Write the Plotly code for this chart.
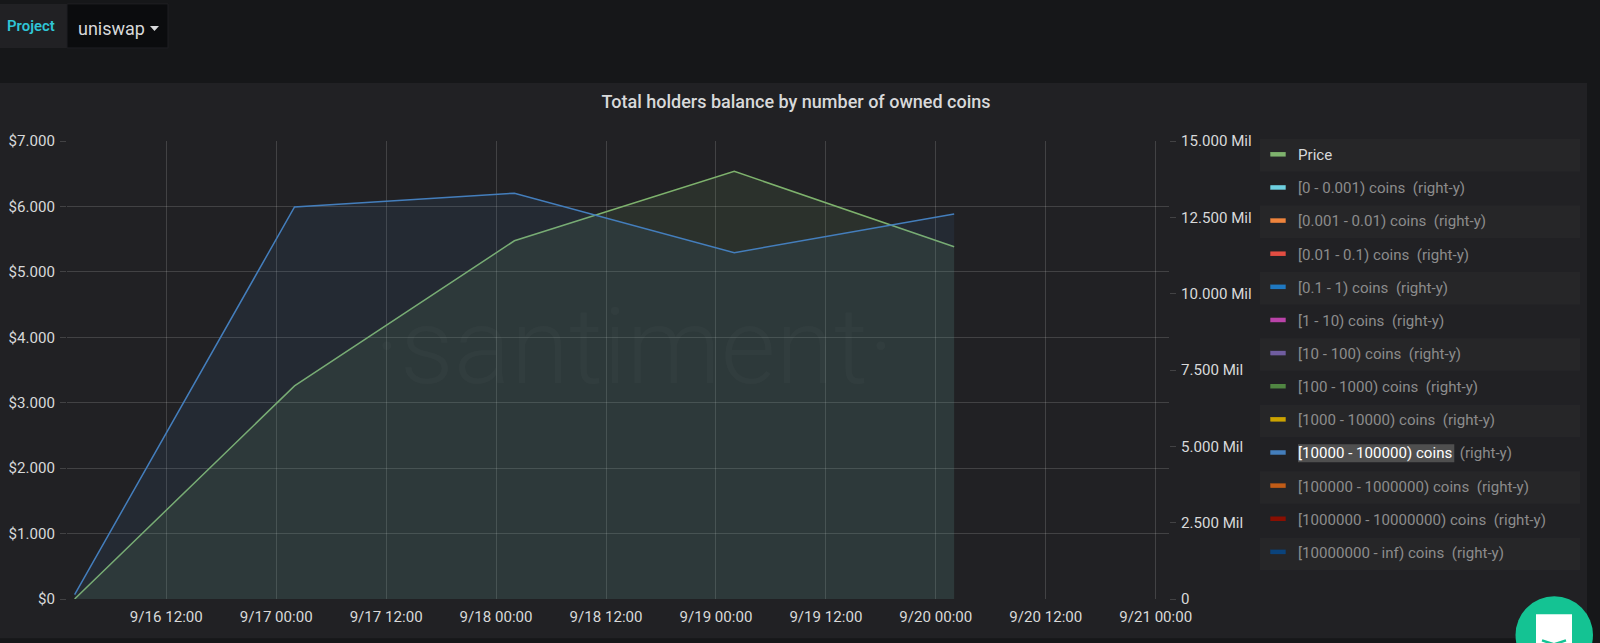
import plotly.graph_objects as go

W, H = 1600, 643
LEFT, RIGHT, TOP, BOTTOM = 67, 1169, 141, 598.7

# ---- data ----
DATES = ["2020-09-16 02:00", "2020-09-17 02:00", "2020-09-18 02:00", "2020-09-19 02:00", "2020-09-20 02:00"]
PRICE = [0.0, 3.257, 5.475, 6.536, 5.383]
HOLDERS_10K_100K = [144000, 12840000, 13290000, 11340000, 12610000]

LEGEND_NAMES = ["Price", "[0 - 0.001) coins", "[0.001 - 0.01) coins", "[0.01 - 0.1) coins", "[0.1 - 1) coins",
                "[1 - 10) coins", "[10 - 100) coins", "[100 - 1000) coins", "[1000 - 10000) coins",
                "[10000 - 100000) coins", "[100000 - 1000000) coins", "[1000000 - 10000000) coins",
                "[10000000 - inf) coins"]
LEGEND_COLORS = ["#7eb26d", "#6ed0e0", "#ef843c", "#e24d42", "#1f78c1", "#ba43a9", "#705da0", "#508642",
                 "#cca300", "#447ebc", "#c15c17", "#890f02", "#0a437c"]

X_TICKS = ["2020-09-16 12:00", "2020-09-17 00:00", "2020-09-17 12:00", "2020-09-18 00:00", "2020-09-18 12:00",
           "2020-09-19 00:00", "2020-09-19 12:00", "2020-09-20 00:00", "2020-09-20 12:00", "2020-09-21 00:00"]
X_LABELS = ["9/16 12:00", "9/17 00:00", "9/17 12:00", "9/18 00:00", "9/18 12:00",
            "9/19 00:00", "9/19 12:00", "9/20 00:00", "9/20 12:00", "9/21 00:00"]
Y_TICKS = [0, 1, 2, 3, 4, 5, 6, 7]
Y_LABELS = ["$0", "$1.000", "$2.000", "$3.000", "$4.000", "$5.000", "$6.000", "$7.000"]
Y2_TICKS = [0, 2500000, 5000000, 7500000, 10000000, 12500000, 15000000]
Y2_LABELS = ["0", "2.500 Mil", "5.000 Mil", "7.500 Mil", "10.000 Mil", "12.500 Mil", "15.000 Mil"]

# ---- style ----
FONT = "Roboto"
BG = "#161719"
PANEL = "#212124"
STRIPE = "#262628"
GRID = "rgba(255,255,255,0.15)"
TEXT = "#d8d9da"
DIM = "#8c8c8c"
TICK_SIZE = 15.1


def px(x):
    return (x - LEFT) / (RIGHT - LEFT)


def py(y):
    return (BOTTOM - y) / (BOTTOM - TOP)


def rect(x0, y0, x1, y1, color, layer="below", line=None):
    return dict(type="rect", xref="paper", yref="paper", x0=px(x0), x1=px(x1), y0=py(y1), y1=py(y0),
                fillcolor=color, line=dict(width=1 if line else 0, color=line or color), layer=layer)


def poly(points, fill=None, line=None, lw=0, layer="above"):
    d = "M" + " L".join(f"{px(a):.5f},{py(b):.5f}" for a, b in points)
    if fill:
        d += " Z"
    return dict(type="path", xref="paper", yref="paper", path=d, fillcolor=fill or "rgba(0,0,0,0)",
                line=dict(width=lw, color=line or "rgba(0,0,0,0)"), layer=layer)


def label(x, y, text, size, color, anchor="left", weight=None):
    return dict(xref="paper", yref="paper", x=px(x), y=py(y), text=text, showarrow=False, xanchor=anchor,
                yanchor="middle", font=dict(family=FONT, size=size, color=color, weight=weight))


fig = go.Figure()

fig.add_trace(go.Scatter(x=DATES, y=PRICE, name="Price", mode="lines", showlegend=False, yaxis="y",
                         line=dict(color="#7eb26d", width=1.5), fill="tozeroy", fillcolor="rgba(126,178,109,0.11)"))
fig.add_trace(go.Scatter(x=DATES, y=HOLDERS_10K_100K, name="[10000 - 100000) coins", mode="lines", showlegend=False,
                         yaxis="y2", line=dict(color="#447ebc", width=1.5), fill="tozeroy",
                         fillcolor="rgba(68,126,188,0.10)"))

for i, (name, color) in enumerate(zip(LEGEND_NAMES, LEGEND_COLORS)):
    if name == "Price":
        shown = f'<span style="color:{TEXT}">{name}</span>'
    elif name.startswith("[10000 - 100000)"):
        shown = f'<span style="color:#ffffff">{name}</span><span style="color:{DIM}">&nbsp;&nbsp;(right-y)</span>'
    else:
        shown = f'<span style="color:{DIM}">{name}&nbsp;&nbsp;(right-y)</span>'
    fig.add_trace(go.Scatter(x=[None], y=[None], name=shown, mode="markers", legendgroup=f"g{i}", hoverinfo="skip",
                             yaxis="y" if i == 0 else "y2",
                             marker=dict(symbol="line-ew", size=11, color=color, line=dict(color=color, width=4.5))))

shapes = [
    rect(0, 83, 1587, 638, PANEL),
    rect(0, 4, 67, 48, PANEL),
    rect(67, 4, 168, 48, "#0b0c0e", line="#1f1f22"),
]
for row in range(0, 13, 2):
    shapes.append(rect(1260, 139 + 33.2 * row, 1580, 171.5 + 33.2 * row, STRIPE))
shapes.append(rect(1298, 444, 1454.3, 462, "#4f4f4f"))
shapes.append(poly([(150, 26), (159, 26), (154.5, 31)], fill=TEXT))
# chat bubble
shapes.append(dict(type="circle", xref="paper", yref="paper", x0=px(1515.5), x1=px(1593), y0=py(673.5), y1=py(596),
                   fillcolor="#14c393", line=dict(width=0), layer="above"))
shapes.append(rect(1536, 614, 1572, 646, "#ffffff", layer="above"))
shapes.append(poly([(1542, 640), (1554, 644), (1566, 640)], line="#14c393", lw=2.5))

annotations = [
    label(31, 26.5, "Project", 14.9, "#2fc5d6", "center", 600),
    label(76, 29, "uniswap", 18, TEXT),
    label(634, 347, "·santiment·", 106, "rgba(255,255,255,0.022)", "center", 300),
]

fig.update_layout(
    width=W, height=H, autosize=False,
    margin=dict(l=LEFT, r=W - RIGHT, t=TOP, b=H - BOTTOM, pad=0, autoexpand=False),
    paper_bgcolor=BG, plot_bgcolor="rgba(0,0,0,0)",
    font=dict(family=FONT, size=TICK_SIZE, color=TEXT),
    title=dict(text="Total holders balance by number of owned coins", x=796 / W, xref="container", xanchor="center",
               y=1 - 102 / H, yref="container", yanchor="middle",
               font=dict(family=FONT, size=18, color=TEXT, weight=500)),
    xaxis=dict(range=["2020-09-16 01:10", "2020-09-21 01:27"], tickmode="array", tickvals=X_TICKS, ticktext=X_LABELS,
               showgrid=True, gridcolor=GRID, gridwidth=1.3, zeroline=False, showline=False, ticks="",
               tickfont=dict(family=FONT, size=TICK_SIZE, color=TEXT), ticklabelstandoff=7),
    yaxis=dict(range=[0, 7], tickmode="array", tickvals=Y_TICKS, ticktext=Y_LABELS, showgrid=True, gridcolor=GRID,
               gridwidth=1.3, zeroline=False, showline=False, ticks="outside", ticklen=6, tickcolor=GRID, tickwidth=1.3,
               tickfont=dict(family=FONT, size=TICK_SIZE, color=TEXT), ticklabelstandoff=2),
    yaxis2=dict(range=[0, 15000000], overlaying="y", side="right", tickmode="array", tickvals=Y2_TICKS,
                ticktext=Y2_LABELS, showgrid=False, zeroline=False, showline=False, ticks="outside", ticklen=6,
                tickcolor=GRID, tickwidth=1.3, tickfont=dict(family=FONT, size=TICK_SIZE, color=TEXT),
                ticklabelstandoff=2),
    legend=dict(x=px(1258), xanchor="left", y=py(138), yanchor="top", bgcolor="rgba(0,0,0,0)", borderwidth=0,
                font=dict(family=FONT, size=TICK_SIZE), tracegroupgap=10.5, traceorder="grouped", itemclick=False,
                itemdoubleclick=False, maxheight=500),
    shapes=shapes, annotations=annotations, hovermode=False,
)

fig.write_html("out.html", config={"displayModeBar": False},
               post_script="document.body.style.margin='0';document.body.style.background='%s';" % BG)
